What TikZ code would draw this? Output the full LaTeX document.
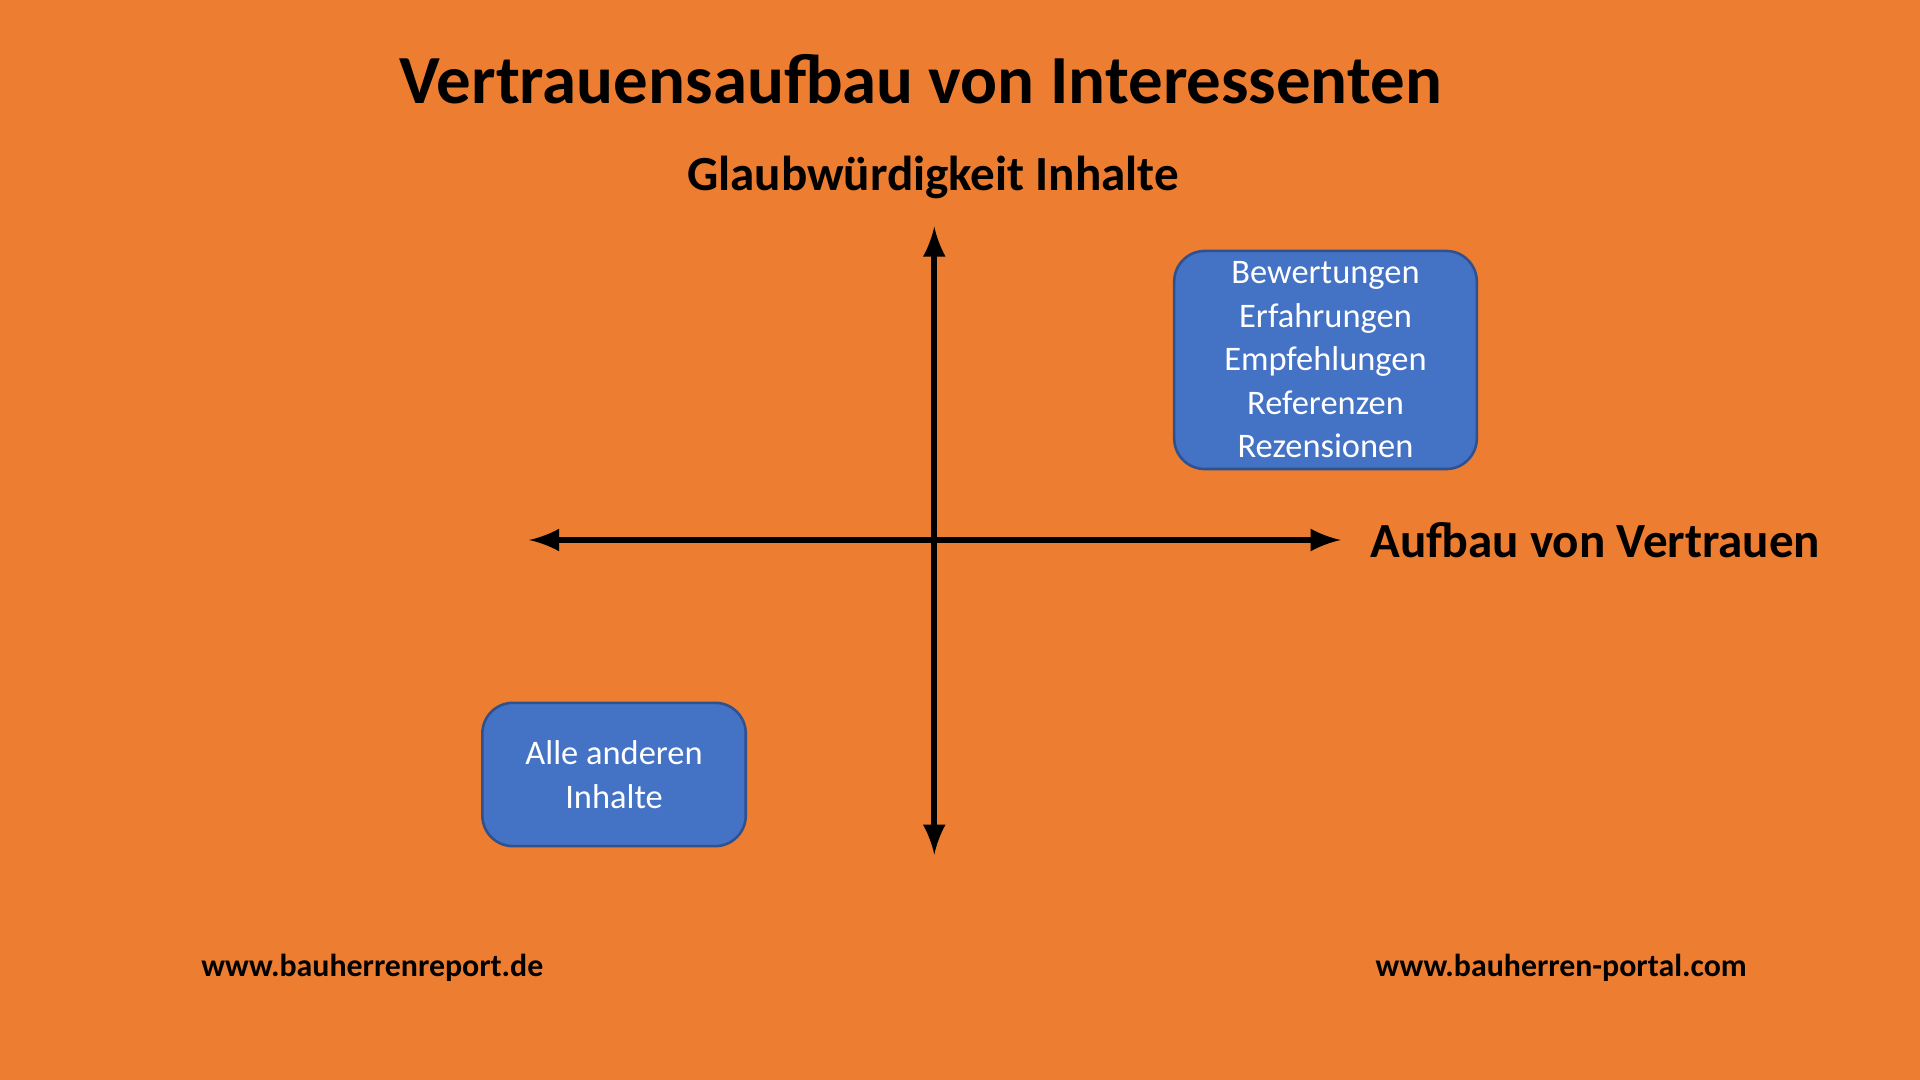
\documentclass[tikz,border=0pt]{standalone}
\usepackage{fontspec}
\setmainfont{Carlito}
\usetikzlibrary{positioning}

\definecolor{bgorange}{RGB}{237,125,49}
\definecolor{boxblue}{RGB}{68,114,196}
\definecolor{boxedge}{RGB}{47,82,143}

\tikzset{
  infobox/.style={draw=boxedge, line width=0.6pt, fill=boxblue, rounded corners=0.25cm,
    text=white, align=center, font=\fontsize{8}{10.1}\selectfont, inner sep=0pt},
  axis/.style={line width=1.4pt, <->, >=latex},
  axislabel/.style={font=\fontsize{11.4}{13}\selectfont\bfseries}
}

\begin{document}
\begin{tikzpicture}[x=0.01cm, y=-0.01cm]
  \fill[bgorange] (0,0) rectangle (1568,882);
  \useasboundingbox (0,0) rectangle (1568,882);

  % Title
  \node[font=\fontsize{16}{19}\selectfont\bfseries] (title) at (752,65) {Vertrauensaufbau von Interessenten};

  % Axes
  \coordinate (top) at (763,185);
  \coordinate (bottom) at (763,698);
  \coordinate (left) at (432,441);
  \coordinate (right) at (1095,441);
  \draw[axis] (bottom) -- (top);
  \draw[axis] (left) -- (right);
  \node[axislabel] (ylabel) at (762,145) {Glaubwürdigkeit Inhalte};
  \node[axislabel, right=0.12cm of right] (xlabel) {Aufbau von Vertrauen};

  % Boxes
  \node[infobox, minimum width=2.47cm, minimum height=1.78cm] (high) at (1082.5,294)
    {Bewertungen\\Erfahrungen\\Empfehlungen\\Referenzen\\Rezensionen};
  \node[infobox, minimum width=2.15cm, minimum height=1.17cm] (low) at (501.5,632.5)
    {Alle anderen\\Inhalte};

  % Footer
  \node[font=\fontsize{7.4}{9}\selectfont\bfseries, anchor=west] (urlleft) at (152,790) {www.bauherrenreport.de};
  \node[font=\fontsize{7.4}{9}\selectfont\bfseries, anchor=east] (urlright) at (1439,790) {www.bauherren-portal.com};
\end{tikzpicture}
\end{document}
